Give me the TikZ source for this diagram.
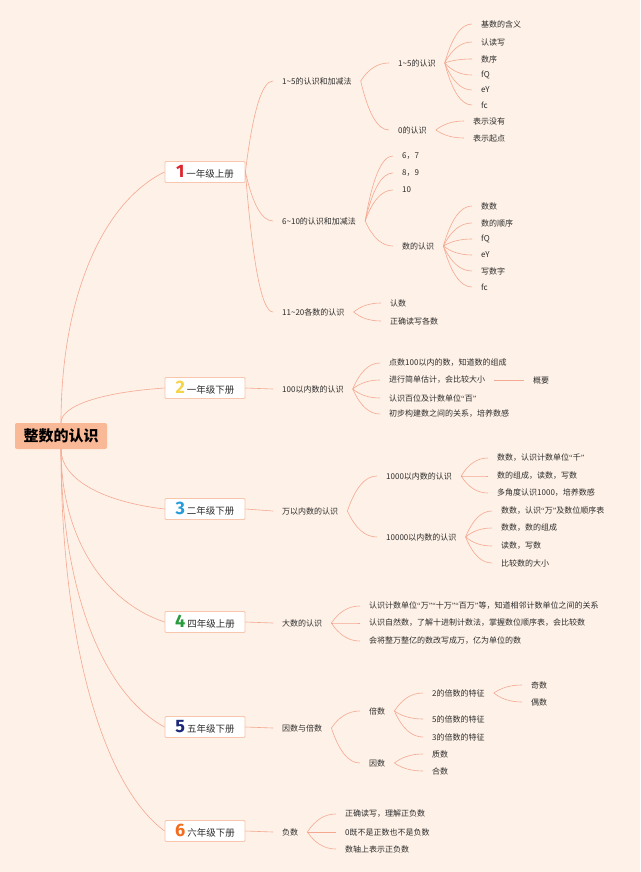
\documentclass[tikz,border=0pt]{standalone}
\usepackage{fontspec}
\setmainfont{Noto Sans CJK SC}
\newfontfamily\numfont{Fira Sans}
\newfontfamily\latfont{Liberation Serif}
\usetikzlibrary{positioning,calc}

\definecolor{bgc}{RGB}{254,241,231}
\definecolor{linec}{RGB}{245,168,145}
\definecolor{rootc}{RGB}{249,184,150}
\definecolor{boxc}{RGB}{247,198,172}
\definecolor{txt}{RGB}{45,45,45}
\definecolor{n1}{RGB}{222,38,46}
\definecolor{n2}{RGB}{245,213,72}
\definecolor{n3}{RGB}{40,156,216}
\definecolor{n4}{RGB}{40,155,60}
\definecolor{n5}{RGB}{28,40,120}
\definecolor{n6}{RGB}{242,110,30}

\newcommand{\gnum}[2]{{\numfont\bfseries\fontsize{18}{18}\selectfont\color{#1}#2}}
\newcommand{\qo}{{\latfont “}}
\newcommand{\qc}{{\latfont ”}}

\begin{document}
\begin{tikzpicture}[
  x=1pt, y=-1pt,
  font=\fontsize{8}{10}\selectfont, text=txt,
  rootbox/.style={fill=rootc, rounded corners=2pt, minimum width=92pt, minimum height=26pt, inner sep=0pt, font=\fontsize{15}{15}\selectfont\bfseries, text=black},
  gbox/.style={draw=boxc, line width=0.8pt, fill=white, rounded corners=1pt, minimum width=80pt, minimum height=21pt, inner sep=0pt, font=\fontsize{9.5}{10}\selectfont},
  topic/.style={anchor=west, inner xsep=9pt, inner ysep=2pt},
  lnk/.style={draw=linec, line width=0.6pt},
  fan/.style={lnk, to path={let \p1=(\tikztostart), \p2=(\tikztotarget) in
      .. controls ({\x1+0.27*(\x2-\x1)},{\y1+0.67*(\y2-\y1)}) and ({\x2-0.4*(\x2-\x1)},\y2) .. (\tikztotarget)}},
  trunk/.style={lnk, to path={let \p1=(\tikztostart), \p2=(\tikztotarget) in
      .. controls (\x1,{\y1+0.5*(\y2-\y1)}) and ({\x2-0.6*(\x2-\x1)},{\y2-0.12*(\y2-\y1)}) .. (\tikztotarget)}}
]
\useasboundingbox[fill=bgc] (0,0) rectangle (640,872);

% centre and grades
\node[rootbox] (root) at (61,436) {整数的认识};
\node[gbox] (g1) at (205,172) {\gnum{n1}{1}\ 一年级上册};
\node[gbox] (g2) at (205,388) {\gnum{n2}{2}\ 一年级下册};
\node[gbox] (g3) at (205,509) {\gnum{n3}{3}\ 二年级下册};
\node[gbox] (g4) at (205,622) {\gnum{n4}{4}\ 四年级上册};
\node[gbox] (g5) at (205,727) {\gnum{n5}{5}\ 五年级下册};
\node[gbox] (g6) at (205,831) {\gnum{n6}{6}\ 六年级下册};

% grade 1
\node[topic] (a1) at (273,81) {1\textasciitilde5的认识和加减法};
\node[topic] (a11) at (389,63) {1\textasciitilde5的认识};
\node[topic] (a11a) at (472,24) {基数的含义};
\node[topic] (a11b) at (472,42) {认读写};
\node[topic] (a11c) at (472,59) {数序};
\node[topic] (a11d) at (472,75) {fQ};
\node[topic] (a11e) at (472,90) {eY};
\node[topic] (a11f) at (472,105) {fc};
\node[topic] (a12) at (389,130) {0的认识};
\node[topic] (a12a) at (464,121) {表示没有};
\node[topic] (a12b) at (464,138) {表示起点};
\node[topic] (a2) at (273,221) {6\textasciitilde10的认识和加减法};
\node[topic] (a21) at (393,156) {6，7};
\node[topic] (a22) at (393,173) {8，9};
\node[topic] (a23) at (393,190) {10};
\node[topic] (a24) at (393,246) {数的认识};
\node[topic] (a24a) at (472,206) {数数};
\node[topic] (a24b) at (472,223) {数的顺序};
\node[topic] (a24c) at (472,239) {fQ};
\node[topic] (a24d) at (472,255) {eY};
\node[topic] (a24e) at (472,271) {写数字};
\node[topic] (a24f) at (472,287) {fc};
\node[topic] (a3) at (273,312) {11\textasciitilde20各数的认识};
\node[topic] (a31) at (381,303) {认数};
\node[topic] (a32) at (381,321) {正确读写各数};

% grade 2
\node[topic] (b1) at (273,389) {100以内数的认识};
\node[topic] (b11) at (380,363) {点数100以内的数，知道数的组成};
\node[topic] (b12) at (380,380) {进行简单估计，会比较大小};
\node[topic] (b13) at (380,398) {认识百位及计数单位\qo 百\qc};
\node[topic] (b14) at (380,414) {初步构建数之间的关系，培养数感};
\node[topic] (sum) at (524,380) {概要};

% grade 3
\node[topic] (c1) at (273,511) {万以内数的认识};
\node[topic] (c11) at (377,476) {1000以内数的认识};
\node[topic] (c11a) at (488,458) {数数，认识计数单位\qo 千\qc};
\node[topic] (c11b) at (488,476) {数的组成，读数，写数};
\node[topic] (c11c) at (488,493) {多角度认识1000，培养数感};
\node[topic] (c12) at (377,537) {10000以内数的认识};
\node[topic] (c12a) at (492,511) {数数，认识\qo 万\qc 及数位顺序表};
\node[topic] (c12b) at (492,528) {数数，数的组成};
\node[topic] (c12c) at (492,546) {读数，写数};
\node[topic] (c12d) at (492,563) {比较数的大小};

% grade 4
\node[topic] (d1) at (273,623) {大数的认识};
\node[topic] (d1a) at (360,606) {认识计数单位\qo 万\qc\qo 十万\qc\qo 百万\qc 等，知道相邻计数单位之间的关系};
\node[topic] (d1b) at (360,623) {认识自然数，了解十进制计数法，掌握数位顺序表，会比较数};
\node[topic] (d1c) at (360,641) {会将整万整亿的数改写成万，亿为单位的数};

% grade 5
\node[topic] (e1) at (273,728) {因数与倍数};
\node[topic] (e11) at (360,711) {倍数};
\node[topic] (e11a) at (423,693) {2的倍数的特征};
\node[topic] (odd) at (522,685) {奇数};
\node[topic] (even) at (522,702) {偶数};
\node[topic] (e11b) at (423,719) {5的倍数的特征};
\node[topic] (e11c) at (423,737) {3的倍数的特征};
\node[topic] (e12) at (360,763) {因数};
\node[topic] (e12a) at (423,754) {质数};
\node[topic] (e12b) at (423,771) {合数};

% grade 6
\node[topic] (f1) at (273,832) {负数};
\node[topic] (f1a) at (336,814) {正确读写，理解正负数};
\node[topic] (f1b) at (336,832) {0既不是正数也不是负数};
\node[topic] (f1c) at (336,849) {数轴上表示正负数};

% links
\foreach \g in {g1,g2}{\draw[trunk] (root.north) to (\g.west);}
\foreach \g in {g3,g4,g5,g6}{\draw[trunk] (root.south) to (\g.west);}
\foreach \a/\b in {g1/a1, g1/a2, g1/a3, a1/a11, a1/a12,
  a11/a11a, a11/a11b, a11/a11c, a11/a11d, a11/a11e, a11/a11f, a12/a12a, a12/a12b,
  a2/a21, a2/a22, a2/a23, a2/a24,
  a24/a24a, a24/a24b, a24/a24c, a24/a24d, a24/a24e, a24/a24f, a3/a31, a3/a32,
  b1/b11, b1/b12, b1/b13, b1/b14,
  c1/c11, c1/c12, c11/c11a, c11/c11b, c11/c11c, c12/c12a, c12/c12b, c12/c12c, c12/c12d,
  d1/d1a, d1/d1b, d1/d1c,
  e1/e11, e1/e12, e11/e11a, e11/e11b, e11/e11c, e11a/odd, e11a/even, e12/e12a, e12/e12b,
  f1/f1a, f1/f1b, f1/f1c}{\draw[fan] (\a.east) to (\b.west);}
\foreach \a/\b in {g2/b1, g3/c1, g4/d1, g5/e1, g6/f1, b12/sum}{\draw[lnk] (\a.east) -- (\b.west);}
\end{tikzpicture}
\end{document}
